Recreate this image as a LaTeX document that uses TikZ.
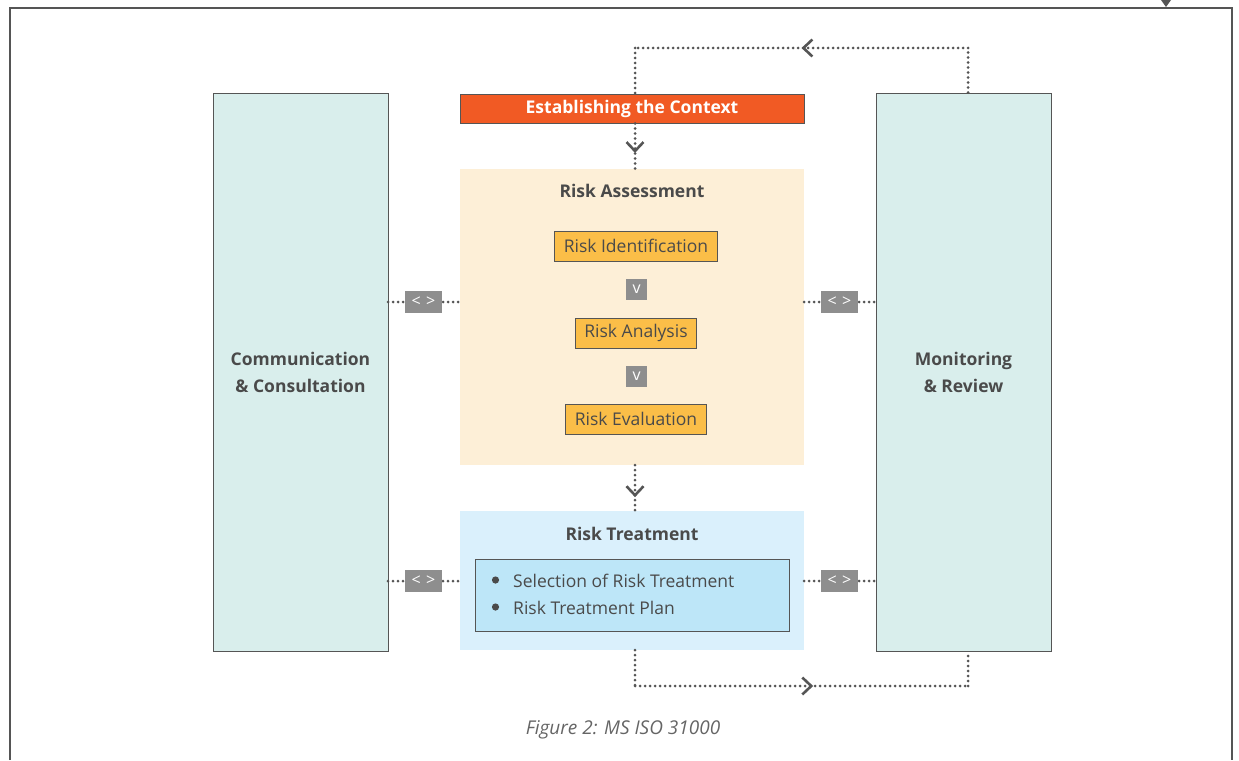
\documentclass[tikz,border=0pt]{standalone}
\usepackage{fontspec}
\setmainfont{Open Sans}
\usetikzlibrary{arrows.meta,decorations.markings}

\definecolor{ink}{HTML}{4A4A4A}
\definecolor{frameline}{HTML}{555555}
\definecolor{tealbg}{HTML}{D9EEEC}
\definecolor{ctxorange}{HTML}{F15A24}
\definecolor{peach}{HTML}{FDEFD7}
\definecolor{amber}{HTML}{FBBE48}
\definecolor{skybg}{HTML}{DAF0FC}
\definecolor{skybox}{HTML}{BDE6F8}
\definecolor{tag}{HTML}{8E8E8E}

\begin{document}
\begin{tikzpicture}[x=1pt, y=-1pt, every node/.style={font=\fontsize{17.5}{20}\selectfont, text=ink},
	side/.style={draw=frameline, line width=1pt, fill=tealbg, minimum width=175pt, minimum height=558pt, align=center, font=\fontsize{17.5}{27}\selectfont\bfseries},
	panel/.style={minimum width=344pt, inner sep=0pt},
	heading/.style={font=\fontsize{17.5}{20}\selectfont\bfseries},
	stage/.style={draw=frameline, line width=1pt, fill=amber, minimum height=30pt, inner xsep=9pt},
	tagbox/.style={fill=tag, text=white, inner sep=0pt, font=\fontsize{16}{16}\selectfont},
	flow/.style={draw=frameline, line width=3pt, line cap=round, dash pattern=on 0pt off 5pt},
	midarrow/.style={postaction={decorate, decoration={markings, mark=at position #1 with {\arrow[solid, draw=frameline, line width=2.6pt]{Straight Barb[length=9pt, width=17pt]}}}}},
	midarrow/.default=0.5]
	\useasboundingbox (0,0) rectangle (1239,760);
	% outer frame
	\draw[frameline, line width=2pt] (10,760) -- (10,8) -- (1232,8) -- (1232,760);
	\fill[frameline] (1161,0) -- (1171,0) -- (1166,7) -- cycle;

	% side columns
	\node[side] (comm) at (300.5,372) {Communication\\\& Consultation};
	\node[side] (mon) at (963.5,372) {Monitoring\\\& Review};

	% centre column
	\node[panel, draw=frameline, line width=1pt, fill=ctxorange, minimum height=29pt, text=white, heading] (ctx) at (632,108.5) {Establishing the Context};
	\node[panel, fill=peach, minimum height=296pt] (assess) at (632,317) {};
	\node[panel, fill=skybg, minimum height=139pt] (treat) at (632,580.5) {};
	\node[heading] (assesst) at (632,191) {Risk Assessment};
	\node[heading] (treatt) at (632,534) {Risk Treatment};

	\node[stage] (ident) at (636,246) {Risk Identification};
	\node[tagbox, minimum width=21pt, minimum height=21pt] (v1) at (636.5,289.5) {v};
	\node[stage] (analysis) at (636,333) {Risk Analysis};
	\node[tagbox, minimum width=21pt, minimum height=21pt] (v2) at (636.5,376.5) {v};
	\node[stage] (eval) at (636,419) {Risk Evaluation};

	\node[draw=frameline, line width=1pt, fill=skybox, minimum width=314pt, minimum height=72pt] (plan) at (632,595) {};
	\fill[ink] (495.5,580) circle (3.6pt) (495.5,607) circle (3.6pt);
	\node[anchor=west, inner xsep=0pt] (item1) at (513,581) {Selection of Risk Treatment};
	\node[anchor=west, inner xsep=0pt] (item2) at (513,608) {Risk Treatment Plan};

	% side links
	\foreach \y/\n in {302/a, 581/b} {
		\draw[flow] (388,\y) -- (460,\y);
		\draw[flow] (804,\y) -- (876,\y);
		\node[tagbox, minimum width=37pt, minimum height=22pt] (l\n) at (423.5,\y) {<\,\,>};
		\node[tagbox, minimum width=37pt, minimum height=22pt] (r\n) at (839.5,\y) {<\,\,>};
	}

	% flow between stages
	\draw[flow, midarrow=0.65] (ctx.south -| 635,0) -- (assess.north -| 635,0);
	\draw[flow, midarrow=0.7] (assess.south -| 635,0) -- (treat.north -| 635,0);

	% feedback loops
	\coordinate (topl) at (635,48);
	\coordinate (topr) at (968,48);
	\coordinate (botl) at (635,686);
	\coordinate (botr) at (968,686);
	\draw[flow] (mon.north -| topr) -- (topr);
	\draw[flow, midarrow=0.5] (topr) -- (topl);
	\draw[flow] (topl) -- (ctx.north -| topl);
	\draw[flow] (treat.south -| botl) -- (botl);
	\draw[flow, midarrow=0.535] (botl) -- (botr);
	\draw[flow] (botr) -- (mon.south -| botr);

	\node[font=\fontsize{19}{20}\selectfont\itshape, text=ink!85] (caption) at (623,730) {Figure 2: MS ISO 31000};
\end{tikzpicture}
\end{document}
